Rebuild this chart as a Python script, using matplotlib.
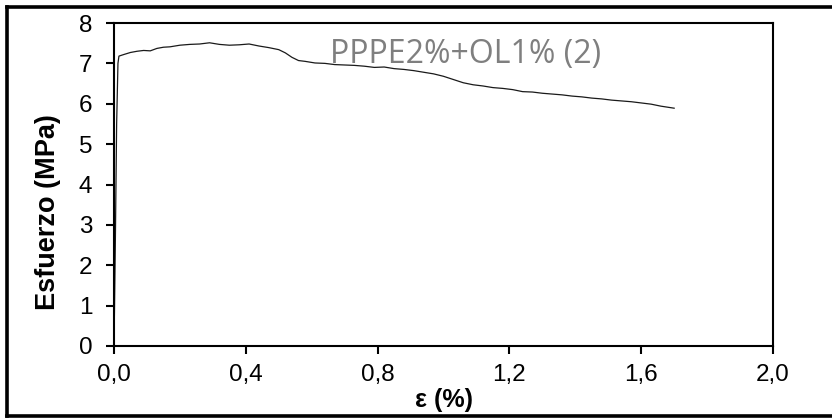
import matplotlib
matplotlib.use("Agg")
import matplotlib.pyplot as plt
from matplotlib.lines import Line2D

strain = [0.0, 0.004, 0.008, 0.012, 0.015, 0.03, 0.05, 0.07, 0.09, 0.11, 0.13, 0.15, 0.17,
          0.20, 0.23, 0.26, 0.29, 0.32, 0.35, 0.38, 0.41, 0.44, 0.47, 0.50, 0.52, 0.54,
          0.56, 0.58, 0.61, 0.64, 0.67, 0.70, 0.73, 0.76, 0.79, 0.82, 0.85, 0.88, 0.91,
          0.94, 0.97, 1.00, 1.03, 1.06, 1.09, 1.12, 1.15, 1.18, 1.21, 1.24, 1.27, 1.30,
          1.33, 1.36, 1.39, 1.42, 1.45, 1.48, 1.51, 1.54, 1.57, 1.60, 1.63, 1.66, 1.70]
stress = [0.0, 2.5, 5.5, 7.0, 7.18, 7.22, 7.27, 7.30, 7.32, 7.31, 7.37, 7.40, 7.41,
          7.45, 7.47, 7.48, 7.51, 7.47, 7.45, 7.46, 7.48, 7.43, 7.39, 7.34, 7.26, 7.15,
          7.07, 7.05, 7.01, 7.00, 6.97, 6.96, 6.95, 6.93, 6.90, 6.91, 6.87, 6.85, 6.82,
          6.78, 6.74, 6.68, 6.60, 6.52, 6.47, 6.44, 6.40, 6.38, 6.35, 6.30, 6.29, 6.26,
          6.24, 6.22, 6.19, 6.17, 6.14, 6.12, 6.09, 6.07, 6.05, 6.02, 5.99, 5.94, 5.89]

xticks = [0.0, 0.4, 0.8, 1.2, 1.6, 2.0]
xtick_labels = ["0,0", "0,4", "0,8", "1,2", "1,6", "2,0"]
yticks = [0, 1, 2, 3, 4, 5, 6, 7, 8]

W, H = 832, 418
fig = plt.figure(figsize=(W / 100, H / 100), dpi=100)
ax = fig.add_axes([114 / W, 1 - 346 / H, (773 - 114) / W, (346 - 23) / H])

ax.plot(strain, stress, color="#1a1a1a", lw=0.9)
ax.set_xlim(0, 2.0)
ax.set_ylim(0, 8)
ax.set_xticks(xticks)
ax.set_xticklabels(xtick_labels)
ax.set_yticks(yticks)
for s in ax.spines.values():
    s.set_linewidth(1.5)
    s.set_color("black")
ax.tick_params(direction="out", length=5.5, width=1.5, labelsize=17.5)
ax.tick_params(axis="x", pad=7.5)
ax.tick_params(axis="y", pad=10)
for lab in ax.get_xticklabels() + ax.get_yticklabels():
    lab.set_fontfamily("Liberation Sans")

ax.text((330 - 114) / 659, (346 - 63) / 323, "PPPE2%+OL1% (2)", transform=ax.transAxes,
        ha="left", va="baseline", fontsize=23, color="#7f7f7f", family="Open Sans")

fig.text(48 / W, 1 - 212 / H, "Esfuerzo (MPa)", rotation=90, ha="center", va="center",
         fontsize=19.5, fontweight="bold", family="Liberation Sans")
fig.text(444 / W, 1 - 400 / H, "ε (%)", ha="center", va="center",
         fontsize=18, fontweight="bold", family="Liberation Sans")

# outer frame (top, left, bottom)
lw = 2.6
fig.add_artist(Line2D([6.5 / W, 1.0], [1 - 6.5 / H, 1 - 6.5 / H], color="black", lw=lw, transform=fig.transFigure))
fig.add_artist(Line2D([6.5 / W, 6.5 / W], [1 - 6.5 / H, 1 - 415.5 / H], color="black", lw=lw, transform=fig.transFigure))
fig.add_artist(Line2D([6.5 / W, 1.0], [1 - 415.5 / H, 1 - 415.5 / H], color="black", lw=lw, transform=fig.transFigure))

fig.savefig("out.png", dpi=100)
